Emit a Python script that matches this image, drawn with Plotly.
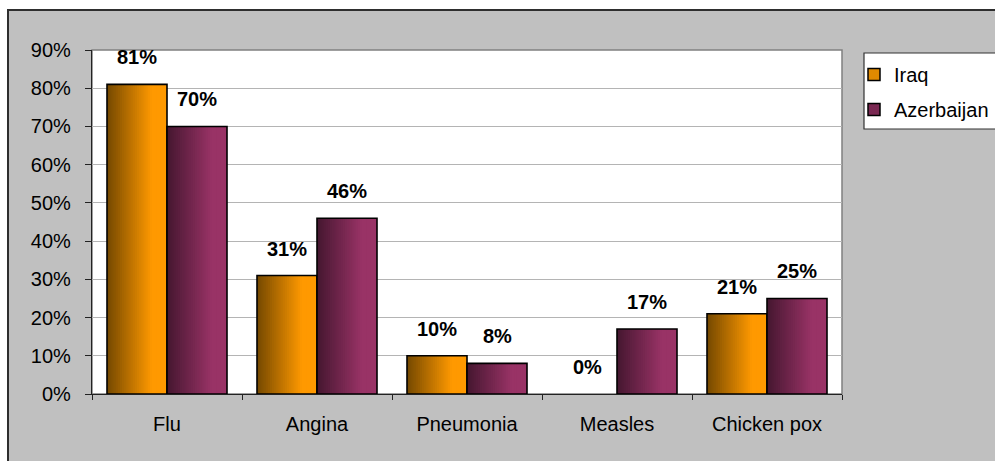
import plotly.graph_objects as go

# ---- data ----
categories = ["Flu", "Angina", "Pneumonia", "Measles", "Chicken pox"]
iraq = [0.81, 0.31, 0.10, 0.00, 0.21]
azerbaijan = [0.70, 0.46, 0.08, 0.17, 0.25]
series_names = ["Iraq", "Azerbaijan"]
y_ticks = [0.0, 0.1, 0.2, 0.3, 0.4, 0.5, 0.6, 0.7, 0.8, 0.9]

# ---- styling ----
FONT = "Arial, Liberation Sans, sans-serif"
BAR_W = 0.4            # width of one bar in category units
N_STRIPS = 28          # strips used to fake a horizontal gradient
gradients = {
    "Iraq": ((0x74, 0x48, 0x00), (0xFF, 0x99, 0x00)),
    "Azerbaijan": ((0x45, 0x17, 0x30), (0x99, 0x33, 0x66)),
}
solid = {"Iraq": "#e08a00", "Azerbaijan": "#7a2852"}

# pixel layout of the plot area inside the 995x461 page
W, H = 995, 461
L, R, T, B = 92, 842, 50, 394
pw, ph = R - L, B - T


def px_x(px):
    return (px - L) / pw


def px_y(py):
    return (B - py) / ph


def mix(c0, c1, t):
    return "rgb(%d,%d,%d)" % tuple(round(a + (b - a) * t) for a, b in zip(c0, c1))


fig = go.Figure()

series = [("Iraq", iraq, -BAR_W), ("Azerbaijan", azerbaijan, 0.0)]
for name, vals, start in series:
    c0, c1 = gradients[name]
    step = BAR_W / N_STRIPS
    for i in range(N_STRIPS):
        t = min(1.0, (i + 0.5) / (N_STRIPS * 0.75))
        # each strip reaches to the right edge of the bar so no seams appear
        fig.add_trace(go.Bar(
            x=categories, y=vals,
            offset=start + i * step, width=BAR_W - i * step,
            marker=dict(color=mix(c0, c1, t), line=dict(width=0)),
            showlegend=False, hoverinfo="skip",
        ))
    # black outline around each bar (zero-height bars are left out)
    fig.add_trace(go.Bar(
        x=categories, y=[v if v > 0 else None for v in vals],
        offset=start, width=BAR_W,
        marker=dict(color="rgba(0,0,0,0)", line=dict(color="black", width=1.6)),
        showlegend=False, name=name,
    ))

# legend entries
for name in series_names:
    fig.add_trace(go.Bar(
        x=[None], y=[None], name=name, legendgroup=name,
        marker=dict(color=solid[name], line=dict(color="black", width=1.5)),
    ))

# value labels above the bars
annotations = []
for name, vals, start in series:
    shift = (start + BAR_W / 2) * pw / len(categories)
    for cat, v in zip(categories, vals):
        annotations.append(dict(
            x=cat, y=v, xref="x", yref="y", text="%d%%" % round(v * 100),
            showarrow=False, xshift=shift, yanchor="bottom", yshift=14,
            font=dict(family=FONT, size=20, color="black", weight="bold"),
        ))

shapes = [
    # chart area: grey panel with dark frame
    dict(type="rect", xref="paper", yref="paper", layer="below",
         x0=px_x(8), x1=px_x(W + 20), y0=px_y(H + 20), y1=px_y(10),
         fillcolor="#c0c0c0", line=dict(color="#2e2e2e", width=2)),
    # plot area
    dict(type="rect", xref="paper", yref="paper", layer="below",
         x0=0, x1=1, y0=0, y1=1,
         fillcolor="white", line=dict(color="#808080", width=1.5)),
    # legend box
    dict(type="rect", xref="paper", yref="paper", layer="below",
         x0=px_x(864), x1=px_x(W + 20), y0=px_y(129), y1=px_y(53),
         fillcolor="white", line=dict(color="#333333", width=1.2)),
]

fig.update_layout(
    width=W, height=H,
    margin=dict(l=L, r=W - R, t=T, b=H - B, pad=0, autoexpand=False),
    paper_bgcolor="white", plot_bgcolor="white",
    barmode="overlay",
    font=dict(family=FONT, size=20, color="black"),
    shapes=shapes, annotations=annotations,
    showlegend=True,
    legend=dict(
        x=px_x(854), y=px_y(55), xanchor="left", yanchor="top",
        bgcolor="rgba(0,0,0,0)", borderwidth=0,
        font=dict(family=FONT, size=20, color="black"),
        traceorder="grouped", tracegroupgap=6,
    ),
    xaxis=dict(
        type="category", categoryorder="array", categoryarray=categories,
        range=[-0.5, len(categories) - 0.5],
        showline=True, linecolor="#222222", linewidth=1.2,
        ticks="outside", ticklen=5, tickcolor="#222222", tickwidth=1.2,
        tickson="boundaries", showgrid=False, ticklabelstandoff=12,
        tickfont=dict(family=FONT, size=20, color="black"),
    ),
    yaxis=dict(
        range=[0, 0.9], tickvals=y_ticks, tickformat=".0%",
        showline=True, linecolor="#222222", linewidth=1.2,
        ticks="outside", ticklen=6, tickcolor="#222222", tickwidth=1.2,
        showgrid=True, gridcolor="#b4b4b4", gridwidth=1.2,
        zeroline=False, ticklabelstandoff=10,
        tickfont=dict(family=FONT, size=20, color="black"),
    ),
)

fig.write_html("out.html")
